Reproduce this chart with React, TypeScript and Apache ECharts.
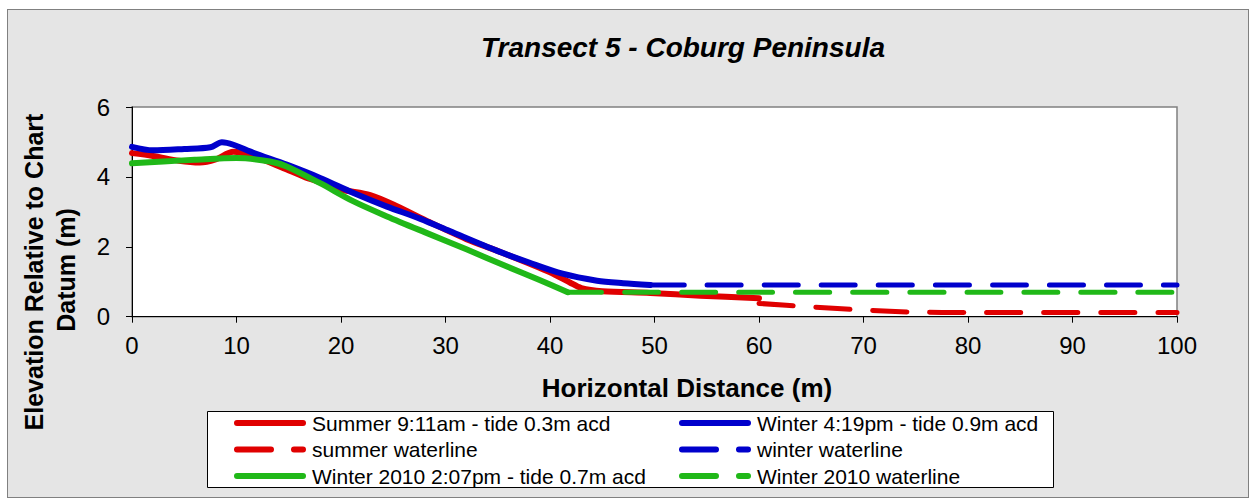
import React, { useEffect, useRef } from "react";
import * as echarts from "echarts";

const FONT = "'Liberation Sans', Arial, sans-serif";

const summerProfile: [number, number][] = [
  [0, 4.68], [2, 4.6], [4.5, 4.46], [6.5, 4.41], [8, 4.5], [9.7, 4.72], [12, 4.55],
  [14.5, 4.25], [16.5, 4.0], [18, 3.85], [20, 3.64], [22.8, 3.48], [25.3, 3.17],
  [28.5, 2.7], [32, 2.22], [35, 1.88], [38, 1.52], [40, 1.27], [41.9, 0.98],
  [43, 0.82], [45, 0.73], [49.6, 0.68], [54.4, 0.6], [60, 0.53],
];
const winterProfile: [number, number][] = [
  [0, 4.86], [2, 4.76], [5, 4.8], [7.5, 4.85], [8.6, 4.99], [9.7, 4.92], [11.6, 4.69],
  [14.8, 4.35], [18, 3.97], [21.2, 3.54], [24.4, 3.15], [27.6, 2.8], [30.4, 2.45],
  [34.9, 1.89], [38, 1.55], [41.2, 1.23], [44.5, 1.03], [47, 0.96], [49.6, 0.91],
];
const winter2010Profile: [number, number][] = [
  [0, 4.39], [3, 4.44], [6, 4.49], [10, 4.54], [13.2, 4.44], [14.8, 4.3], [18, 3.82],
  [21.2, 3.3], [24.4, 2.87], [28, 2.42], [32, 1.93], [36, 1.42], [39, 1.05], [41.7, 0.7],
];
const summerWaterline: [number, number][] = [
  [60, 0.38], [65, 0.28], [70, 0.19], [75, 0.13], [80, 0.12], [100, 0.12],
];
const winterWaterline: [number, number][] = [[49.6, 0.91], [100, 0.91]];
const winter2010Waterline: [number, number][] = [[41.7, 0.7], [100, 0.7]];

const seriesNames = [
  "Summer 9:11am - tide 0.3m acd",
  "Winter 4:19pm - tide 0.9m acd",
  "summer waterline",
  "winter waterline",
  "Winter 2010 2:07pm - tide 0.7m acd",
  "Winter 2010 waterline",
];

const RED = "#e00000";
const BLUE = "#0000cc";
const GREEN = "#20b818";
const DASH = [34, 23];

export default function App() {
  const ref = useRef<HTMLDivElement>(null);
  useEffect(() => {
    const chart = echarts.init(ref.current!, null, { renderer: "svg" });
    const solid = (name: string, data: [number, number][], color: string) => ({
      name, type: "line", data, smooth: 0.3, symbol: "none", showSymbol: false,
      color, lineStyle: { color, width: 6, cap: "round", join: "round" },
    });
    const dashed = (name: string, data: [number, number][], color: string) => ({
      name, type: "line", data, smooth: 0.2, symbol: "none", showSymbol: false,
      color, lineStyle: { color, width: 5, type: DASH, cap: "round", join: "round" },
    });
    const legendBase = {
      orient: "vertical", top: 407.5, itemWidth: 66, itemHeight: 14, itemGap: 5.5,
      itemStyle: { opacity: 0 },
      lineStyle: { width: 6, cap: "round" },
      textStyle: { fontFamily: FONT, fontSize: 21, color: "#000", lineHeight: 21, padding: [0, 0, 0, 4] },
    };
    chart.setOption({
      animation: false,
      backgroundColor: "transparent",
      title: {
        text: "Transect 5 - Coburg Peninsula",
        left: 678, top: 28, textAlign: "center",
        textStyle: { fontFamily: FONT, fontSize: 28, fontWeight: "bold", fontStyle: "italic", color: "#000" },
      },
      grid: {
        left: 132, top: 107, width: 1045, height: 209.7, show: true,
        backgroundColor: "#ffffff", borderColor: "#808080", borderWidth: 1.5,
      },
      xAxis: {
        type: "value", min: 0, max: 100, interval: 10,
        name: "Horizontal Distance (m)", nameLocation: "middle", nameGap: 58,
        nameTextStyle: { fontFamily: FONT, fontSize: 26, fontWeight: "bold", color: "#000", padding: [0, 0, 0, 65] },
        axisLine: { show: true, lineStyle: { color: "#000", width: 1 } },
        axisTick: { show: true, length: 6, lineStyle: { color: "#000" } },
        axisLabel: { fontFamily: FONT, fontSize: 24, color: "#000", margin: 17 },
        splitLine: { show: false },
      },
      yAxis: {
        type: "value", min: 0, max: 6, interval: 2,
        axisLine: { show: true, lineStyle: { color: "#000", width: 1 } },
        axisTick: { show: true, length: 6, lineStyle: { color: "#000" } },
        axisLabel: { fontFamily: FONT, fontSize: 24, color: "#000", margin: 22 },
        splitLine: { show: false },
      },
      legend: [
        { ...legendBase, left: 229, data: [seriesNames[0], seriesNames[2], seriesNames[4]] },
        { ...legendBase, left: 674, data: [seriesNames[1], seriesNames[3], seriesNames[5]] },
      ],
      graphic: [
        {
          type: "rect", left: 207, top: 411, z: 0,
          shape: { width: 846, height: 76 },
          style: { fill: "#ffffff", stroke: "#000", lineWidth: 1 },
        },
        {
          type: "text", x: 34, y: 272, rotation: Math.PI / 2,
          style: {
            text: "Elevation Relative to Chart", font: `bold 25px ${FONT}`, fill: "#000",
            textAlign: "center", textVerticalAlign: "middle", align: "center", verticalAlign: "middle",
          },
        },
        {
          type: "text", x: 66, y: 270, rotation: Math.PI / 2,
          style: {
            text: "Datum (m)", font: `bold 25px ${FONT}`, fill: "#000",
            textAlign: "center", textVerticalAlign: "middle", align: "center", verticalAlign: "middle",
          },
        },
      ],
      series: [
        solid(seriesNames[0], summerProfile, RED),
        dashed(seriesNames[2], summerWaterline, RED),
        solid(seriesNames[1], winterProfile, BLUE),
        dashed(seriesNames[3], winterWaterline, BLUE),
        solid(seriesNames[4], winter2010Profile, GREEN),
        dashed(seriesNames[5], winter2010Waterline, GREEN),
      ],
    });
    return () => chart.dispose();
  }, []);
  return (
    <div style={{ position: "fixed", left: 0, top: 0, width: 1253, height: 501, background: "#ffffff" }}>
      <div style={{
        position: "absolute", left: 7, top: 9, width: 1242, height: 489, boxSizing: "border-box",
        background: "#e5e5e5", border: "1.5px solid #808080",
      }} />
      <div ref={ref} style={{ position: "absolute", left: 0, top: 0, width: 1253, height: 501 }} />
    </div>
  );
}
